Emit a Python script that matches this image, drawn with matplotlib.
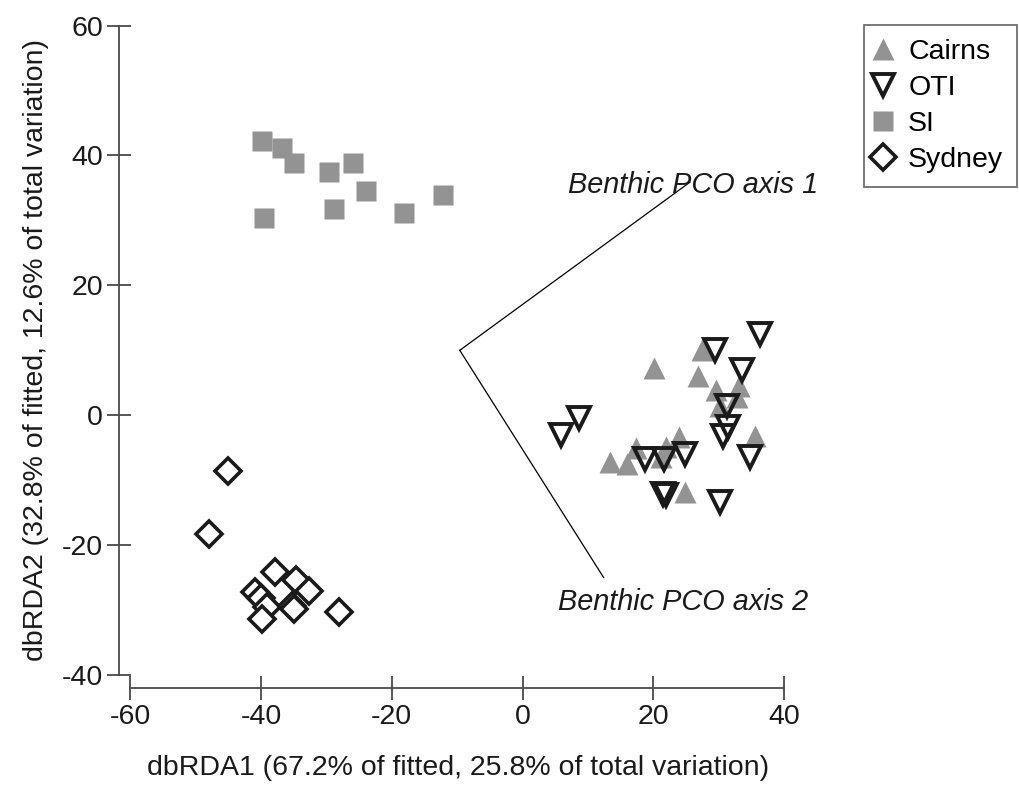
import matplotlib
matplotlib.use("Agg")
import matplotlib.pyplot as plt
from matplotlib.lines import Line2D

plt.rcParams['font.family'] = ['Liberation Sans', 'DejaVu Sans']
plt.rcParams['axes.unicode_minus'] = False

# ---- data ----
cairns_x = [20.1, 27.4, 26.8, 29.6, 33.1, 30.2, 32.8, 35.5, 23.9, 17.4, 13.3, 16.0, 22.0, 24.8, 21.2]
cairns_y = [7.3, 10.0, 6.0, 3.9, 4.5, 1.4, 2.8, -3.2, -3.3, -5.1, -7.2, -7.5, -4.9, -11.8, -6.5]

oti_x = [36.3, 29.4, 33.6, 31.2, 31.4, 30.7, 34.8, 8.7, 5.9, 18.7, 21.7, 24.8, 21.5, 22.0, 30.2]
oti_y = [12.5, 10.1, 7.0, 1.5, -1.8, -3.2, -6.4, -0.5, -3.1, -6.7, -6.7, -5.9, -12.1, -12.3, -13.4]

si_x = [-39.9, -36.8, -34.9, -29.6, -26.0, -23.9, -28.9, -39.5, -18.1, -12.1]
si_y = [42.2, 41.2, 38.9, 37.5, 38.9, 34.6, 31.7, 30.3, 31.1, 33.9]

syd_x = [-45.1, -48.0, -37.8, -34.7, -32.6, -40.9, -40.0, -39.0, -39.8, -35.2, -34.9, -28.0]
syd_y = [-8.6, -18.3, -24.2, -25.3, -27.1, -27.2, -28.2, -29.5, -31.3, -29.3, -29.8, -30.3]

vec_origin = (-9.6, 10.0)
vec1_end = (25.6, 35.9)
vec2_end = (12.4, -25.0)
vec1_label = "Benthic PCO axis 1"
vec2_label = "Benthic PCO axis 2"

xticks = [-60, -40, -20, 0, 20, 40]
yticks = [-40, -20, 0, 20, 40, 60]

grey = '#939393'
dark = '#1a1a1a'
axcol = '#4a4a4a'

fig = plt.figure(figsize=(10.19, 7.94), dpi=100)
ax = fig.add_axes([0.1168, 0.1335, 0.6656, 0.8506])
ax.set_xlim(-61.7, 42)
ax.set_ylim(-42.0, 62)

ax.plot(si_x, si_y, ls='none', marker='s', ms=14.6, color=grey, mec='none', zorder=3)
ax.plot(syd_x, syd_y, ls='none', marker='D', ms=13.0, mfc='white', mec=dark, mew=2.6, zorder=3)
ax.plot(cairns_x, cairns_y, ls='none', marker='^', ms=16, color=grey, mec='none', zorder=3)
ax.plot(oti_x, oti_y, ls='none', marker='v', ms=16, mfc='none', mec=dark, mew=2.8, zorder=4)

ax.plot([vec_origin[0], vec1_end[0]], [vec_origin[1], vec1_end[1]], color='black', lw=0.9)
ax.plot([vec_origin[0], vec2_end[0]], [vec_origin[1], vec2_end[1]], color='black', lw=0.9)
ax.text(45.2, 35.4, vec1_label, ha='right', va='center', fontsize=20.8, style='italic', color=dark,
        clip_on=False)
ax.text(43.6, -28.7, vec2_label, ha='right', va='center', fontsize=20.8, style='italic', color=dark,
        clip_on=False)

for s in ['top', 'right']:
    ax.spines[s].set_visible(False)
ax.spines['left'].set_bounds(-40, 60)
ax.spines['bottom'].set_bounds(-60, 40)
for s in ['left', 'bottom']:
    ax.spines[s].set_color(axcol)
    ax.spines[s].set_linewidth(1.3)

ax.set_xticks(xticks)
ax.set_yticks(yticks)
ax.tick_params(axis='both', direction='inout', length=17, width=1.3, color=axcol,
               labelsize=20.5, labelcolor=dark)
ax.tick_params(axis='x', pad=3)
ax.tick_params(axis='y', pad=3)

ax.set_xlabel("dbRDA1 (67.2% of fitted, 25.8% of total variation)", fontsize=20.5, color=dark, labelpad=18)
ax.set_ylabel("dbRDA2 (32.8% of fitted, 12.6% of total variation)", fontsize=20.5, color=dark, labelpad=9)

handles = [
    Line2D([], [], ls='none', marker='^', ms=16, color=grey, mec='none'),
    Line2D([], [], ls='none', marker='v', ms=16, mfc='none', mec=dark, mew=2.8),
    Line2D([], [], ls='none', marker='s', ms=14.6, color=grey, mec='none'),
    Line2D([], [], ls='none', marker='D', ms=13.0, mfc='white', mec=dark, mew=2.6),
]
leg = fig.legend(handles, ['Cairns', 'OTI', 'SI', 'Sydney'], loc='upper left',
                 bbox_to_anchor=(864/1019, 1 - 25/794), fontsize=20.5, frameon=True,
                 fancybox=False, edgecolor=axcol, handlelength=0.4, handletextpad=0.67,
                 borderpad=0.48, labelspacing=0.36, borderaxespad=0)
leg.get_frame().set_linewidth(1.3)

fig.savefig('out.png', dpi=100)
